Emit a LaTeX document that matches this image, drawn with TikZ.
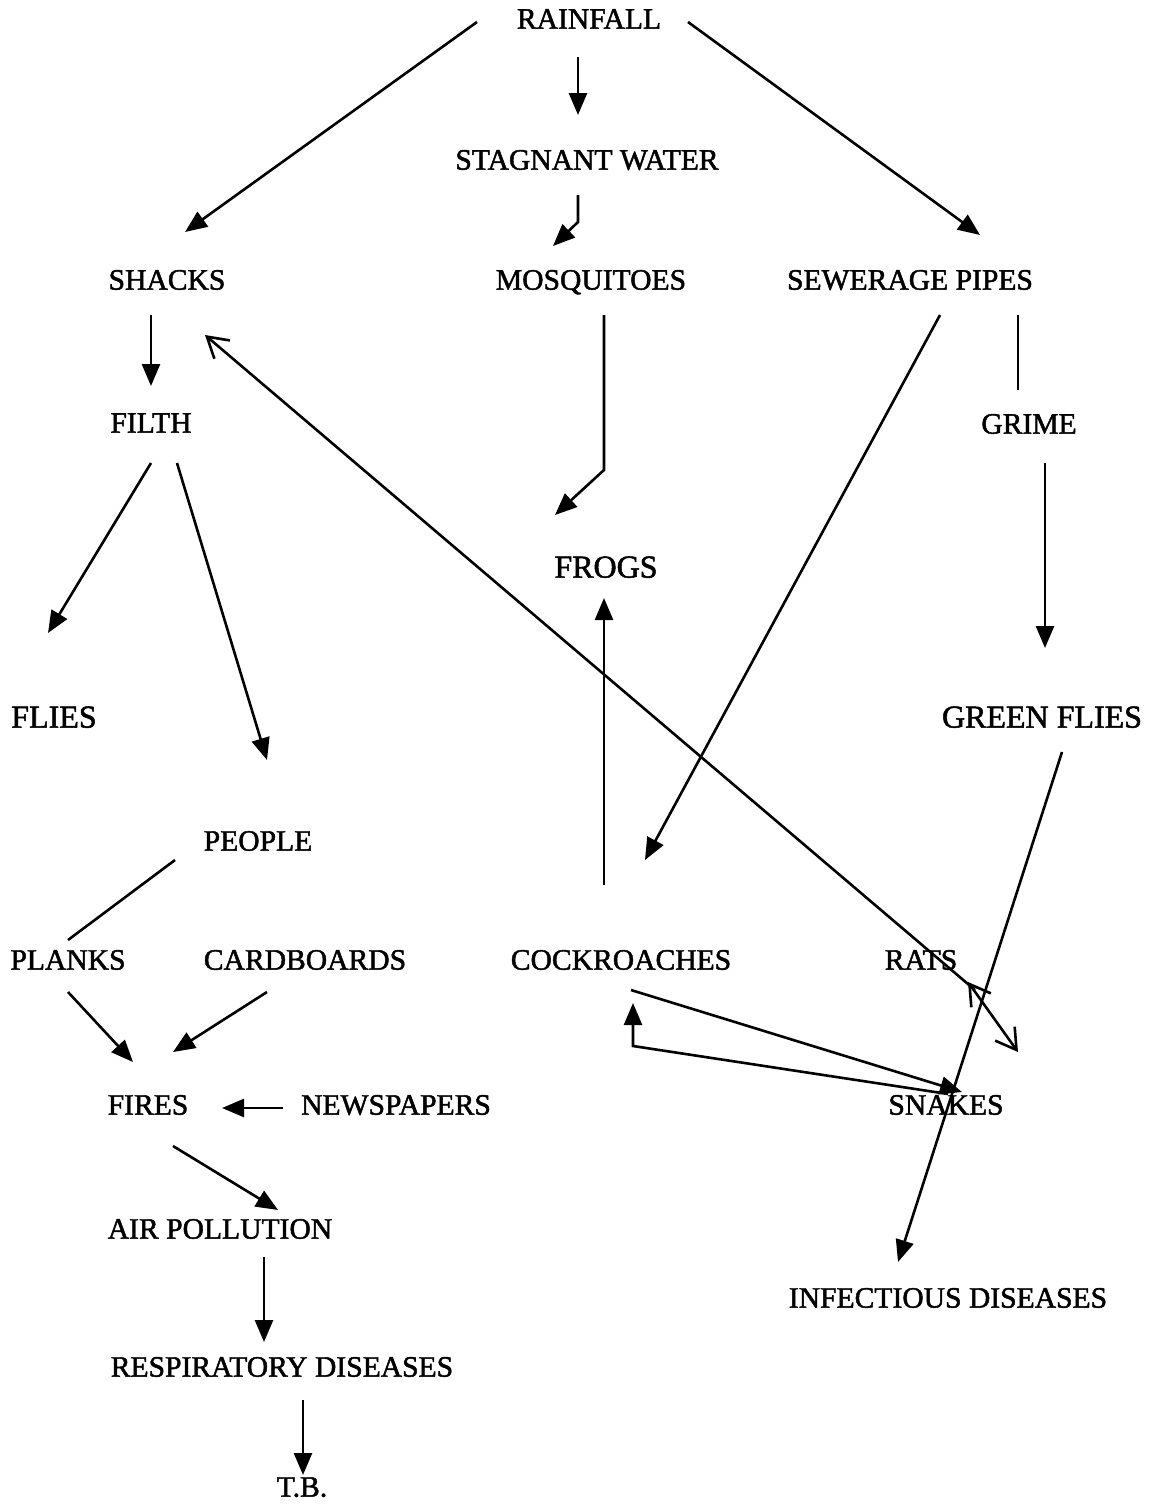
\documentclass[tikz,border=0pt]{standalone}
\usepackage{fontspec}
\setmainfont{Liberation Serif}
\usetikzlibrary{arrows.meta,calc}
\begin{document}
\begin{tikzpicture}[x=0.5pt,y=-0.5pt,
  lbl/.style={font=\fontsize{14.8}{16}\selectfont\addfontfeatures{FakeBold=1.6}, inner sep=0pt, text height=0.662em, text depth=0pt},
  big/.style={lbl,font=\fontsize{16}{18}\selectfont\addfontfeatures{FakeBold=1.6}},
  conn/.style={line width=1.3pt},
  arr/.style={conn,-{Triangle[length=11pt,width=9pt]}},
  oarr/.style={conn,{Straight Barb[length=10pt,width=12pt,line width=1.3pt]}-},
  oarr2/.style={conn,{Straight Barb[length=10pt,width=12pt,line width=1.3pt]}-{Straight Barb[length=10pt,width=12pt,line width=1.3pt]}}]
\useasboundingbox[fill=white] (0,0) rectangle (1150,1505);
\node[lbl] (rain) at (589,22) {RAINFALL};
\node[lbl] (stag) at (587,163) {STAGNANT WATER};
\node[lbl] (shacks) at (167,283) {SHACKS};
\node[lbl] (mosq) at (591,283) {MOSQUITOES};
\node[lbl] (sewer) at (910,283) {SEWERAGE PIPES};
\node[lbl] (filth) at (151,426) {FILTH};
\node[lbl] (grime) at (1029,427) {GRIME};
\node[big] (frogs) at (606,571) {FROGS};
\node[big] (flies) at (54,721) {FLIES};
\node[big] (gflies) at (1042,721) {GREEN FLIES};
\node[lbl] (people) at (258,844) {PEOPLE};
\node[lbl] (planks) at (68,963) {PLANKS};
\node[lbl] (card) at (305,963) {CARDBOARDS};
\node[lbl] (cock) at (621,963) {COCKROACHES};
\node[lbl] (rats) at (921,963) {RATS};
\node[lbl] (fires) at (148,1108) {FIRES};
\node[lbl] (news) at (396,1108) {NEWSPAPERS};
\node[lbl] (snakes) at (946,1108) {SNAKES};
\node[lbl] (air) at (220,1232) {AIR POLLUTION};
\node[lbl] (infect) at (948,1301) {INFECTIOUS DISEASES};
\node[lbl] (resp) at (282,1370) {RESPIRATORY DISEASES};
\node[lbl] (tb) at (302,1490) {T.B.};

\draw[arr] ($(rain)+(-112,0)$) -- ($(shacks)+(18,-51)$);
\draw[arr] ($(rain)+(-11,35)$) -- ($(stag)+(-9,-48)$);
\draw[arr] ($(rain)+(99,0)$) -- ($(sewer)+(70,-48)$);
\draw[arr] ($(stag)+(-9,32)$) -- ($(stag)+(-9,59)$) -- ($(mosq)+(-38,-37)$);
\draw[arr] ($(shacks)+(-16,32)$) -- ($(filth)+(0,-40)$);
\draw[arr] ($(mosq)+(13,32)$) -- ($(frogs)+(-2,-101)$) -- ($(frogs)+(-51,-56)$);
\draw[arr] ($(sewer)+(30,32)$) -- ($(cock)+(24,-103)$);
\draw[conn] ($(sewer)+(108,32)$) -- ($(grime)+(-11,-37)$);
\draw[arr] ($(grime)+(16,36)$) -- ($(gflies)+(3,-73)$);
\draw[arr] ($(filth)+(0,37)$) -- ($(flies)+(-6,-88)$);
\draw[arr] ($(filth)+(26,37)$) -- ($(people)+(9,-84)$);
\draw[oarr] ($(shacks)+(38,52)$) -- ($(rats)+(54,27)$);
\draw[oarr2] ($(rats)+(47,19)$) -- ($(snakes)+(72,-56)$);
\draw[arr] ($(cock)+(-17,-78)$) -- ($(frogs)+(-2,27)$);
\draw[arr] ($(gflies)+(20,31)$) -- ($(infect)+(-50,-39)$);
\draw[conn] ($(people)+(-83,16)$) -- ($(planks)+(0,-23)$);
\draw[arr] ($(planks)+(0,29)$) -- ($(fires)+(-15,-46)$);
\draw[arr] ($(card)+(-38,29)$) -- ($(fires)+(25,-56)$);
\draw[arr] ($(news)+(-113,0)$) -- ($(fires)+(74,0)$);
\draw[arr] ($(fires)+(25,38)$) -- ($(air)+(58,-22)$);
\draw[arr] ($(air)+(44,25)$) -- ($(resp)+(-18,-28)$);
\draw[arr] ($(resp)+(21,30)$) -- ($(tb)+(1,-15)$);
\draw[arr] ($(cock)+(10,27)$) -- ($(snakes)+(16,-16)$);
\draw[arr] ($(snakes)+(2,-14)$) -- ($(cock)+(12,83)$) -- ($(cock)+(12,40)$);
\end{tikzpicture}
\end{document}
